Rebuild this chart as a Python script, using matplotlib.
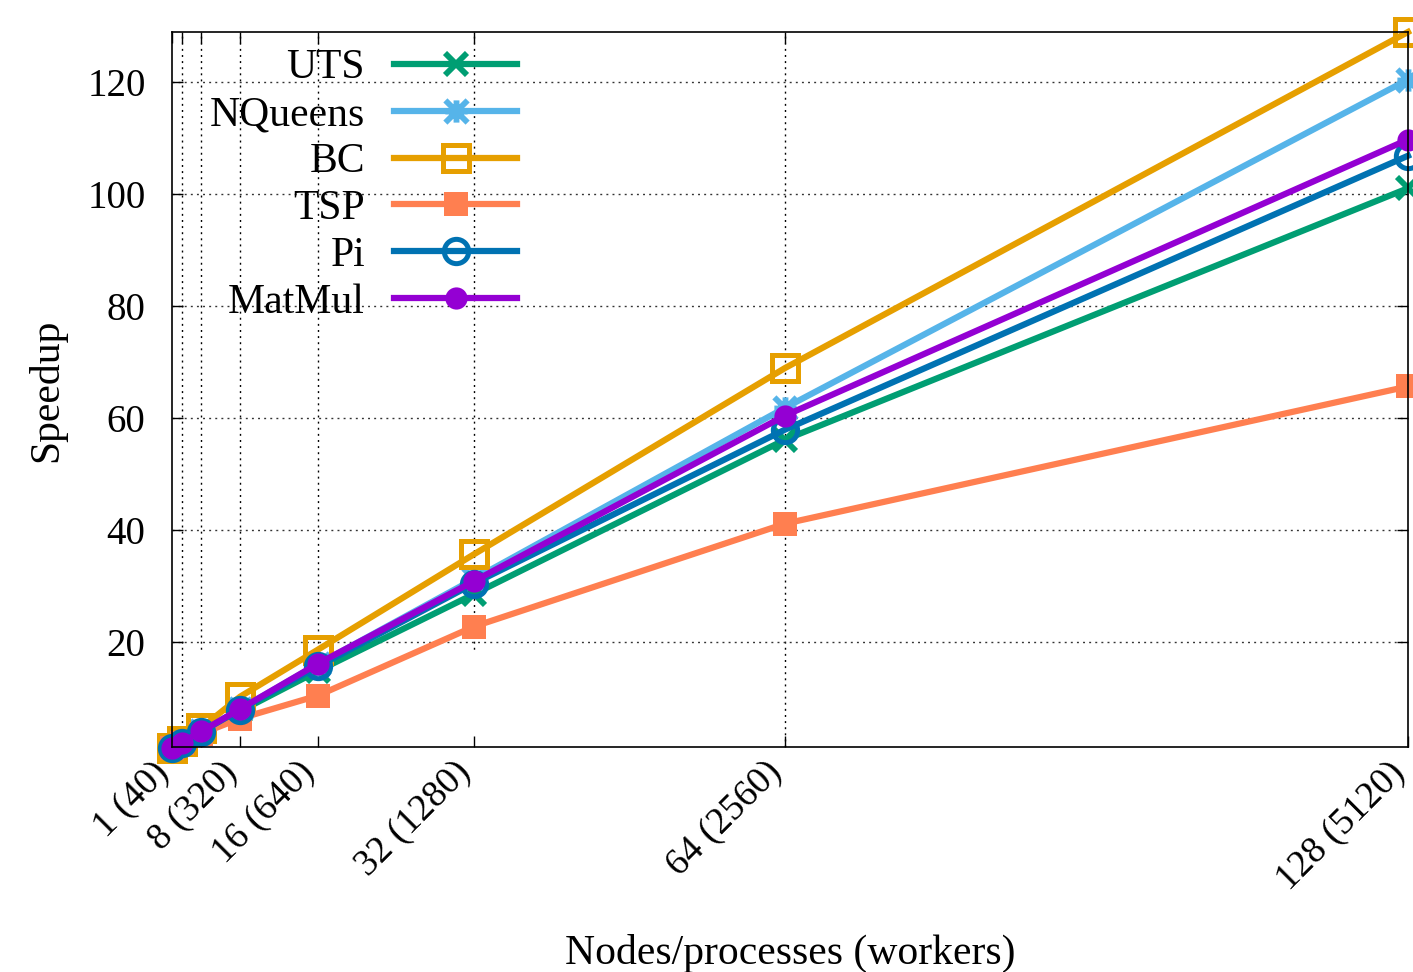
import matplotlib
matplotlib.use("Agg")
import matplotlib.pyplot as plt
import matplotlib.transforms as mtransforms
from matplotlib.path import Path
from matplotlib.patches import Rectangle

# ---------------- data ----------------
nodes = [1, 2, 4, 8, 16, 32, 64, 128]
tick_labels = ["1 (40)", "", "", "8 (320)", "16 (640)", "32 (1280)", "64 (2560)", "128 (5120)"]
y_ticks = [20, 40, 60, 80, 100, 120]

uts = [1.0, 1.9, 3.8, 7.6, 14.8, 28.5, 56.1, 101.0]
nqueens = [1.0, 2.0, 4.0, 8.0, 16.0, 31.2, 61.8, 120.4]
bc = [1.1, 2.2, 4.6, 10.2, 18.6, 35.6, 68.9, 128.9]
tsp = [1.0, 1.9, 3.6, 6.3, 10.4, 22.7, 41.1, 65.6]
pi = [1.0, 2.0, 3.9, 7.9, 15.6, 30.4, 57.9, 106.8]
matmul = [1.0, 2.0, 4.0, 8.0, 16.1, 30.8, 60.4, 109.7]

series_names = ["UTS", "NQueens", "BC", "TSP", "Pi", "MatMul"]
series_values = [uts, nqueens, bc, tsp, pi, matmul]

# ---------------- style ----------------
plt.rcParams["font.family"] = ["Liberation Serif", "DejaVu Serif"]

asterisk = Path(
    [(-1, 0), (1, 0), (0, -1), (0, 1), (-1, -1), (1, 1), (-1, 1), (1, -1)],
    [Path.MOVETO, Path.LINETO] * 4,
)

styles = [
    dict(color="#009e73", marker="x", ms=16, mew=4.2),
    dict(color="#56b4e9", marker=asterisk, ms=16, mew=4.2, mfc="none"),
    dict(color="#e69f00", marker="s", ms=19, mew=3.6, mfc="none"),
    dict(color="#ff7f50", marker="s", ms=17, mew=0),
    dict(color="#0072b2", marker="o", ms=17.5, mew=3.6, mfc="none"),
    dict(color="#9400d3", marker="o", ms=16, mew=0),
]

W, H = 1413, 972
fig = plt.figure(figsize=(W / 100, H / 100), dpi=100)
L, R, T, B = 172, 1408, 32, 746.5
ax = fig.add_axes([L / W, 1 - B / H, (R - L) / W, (B - T) / H])

ax.set_xlim(1, 128)
ax.set_ylim(1.3, 128.9)

# grid (drawn manually so the key box can hide it but not the ticks)
for xv in nodes[1:-1]:
    ax.axvline(xv, color="black", lw=1.0, ls=(0, (1.4, 3)), zorder=0.5)
for yv in y_ticks:
    ax.axhline(yv, color="#333333", lw=1.0, ls=(0, (1.4, 3)), zorder=0.5)

# white key box
ax.add_patch(Rectangle((195, 35), 345, 287, transform=None, facecolor="white",
                       edgecolor="none", zorder=1))

for name, vals, st in zip(series_names, series_values, styles):
    ax.plot(nodes, vals, lw=4.5, label=name, clip_on=False, zorder=2, **st)

ax.set_xticks(nodes)
ax.set_xticklabels(tick_labels, rotation=45, ha="right", va="center",
                   rotation_mode="anchor", fontsize=27)
ax.set_yticks(y_ticks)
ax.set_yticklabels([str(v) for v in y_ticks], fontsize=28)
ax.tick_params(axis="both", direction="in", length=8, width=1.0,
               top=True, right=True, color="black")
ax.tick_params(axis="x", pad=12)
ax.tick_params(axis="y", pad=19)
for sp in ax.spines.values():
    sp.set_linewidth(1.2)
    sp.set_zorder(3)

# nudge rotated tick labels slightly left/down (after tick_params)
shift = mtransforms.ScaledTranslation(-6 / 72, -3 / 72, fig.dpi_scale_trans)
for tick in ax.xaxis.get_major_ticks():
    tick.label1.set_transform(tick.label1.get_transform() + shift)

ax.set_xlabel("Nodes/processes (workers)", fontsize=30)
ax.xaxis.set_label_coords(0.5, -0.262)
ax.set_ylabel("Speedup", fontsize=30)
ax.yaxis.set_label_coords(-0.0858, 0.499)

leg = ax.legend(loc="upper right", bbox_to_anchor=(517 / W, 1 - 49 / H),
                bbox_transform=fig.transFigure, frameon=False, markerfirst=False,
                handlelength=2.95, handletextpad=0.7, labelspacing=0.2,
                borderpad=0, borderaxespad=0, fontsize=30)
leg.set_zorder(5)

fig.savefig("out.png", dpi=100)
